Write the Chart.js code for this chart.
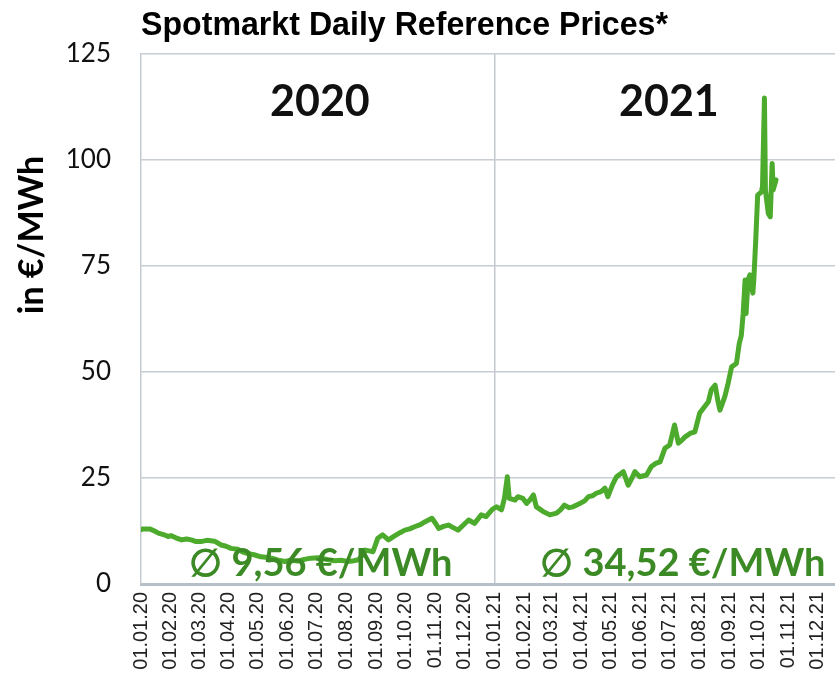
<!DOCTYPE html>
<html>
<head>
<meta charset="utf-8">
<script src="https://cdn.jsdelivr.net/npm/chart.js@4.4.0/dist/chart.umd.min.js"></script>
<style>
  body { margin: 0; background: #fff; overflow: hidden; }
  #wrap { width: 835px; height: 673px; position: relative; }
</style>
</head>
<body>
<div id="wrap"><canvas id="charts"></canvas></div>
<script>
// day number counted from 01.01.20
var days = [0, 2, 9, 14, 18, 24, 28, 31, 36, 42, 47, 52, 57, 62, 68, 76, 80, 83, 88, 93,
    100, 105, 110, 117, 124, 129, 135, 142, 149, 155, 162, 169, 176, 183, 188, 194, 200, 207, 214, 220,
    225, 229, 232, 236, 240, 245, 250, 256, 262, 268, 273, 278, 283, 289, 294, 301, 305, 308, 313, 318,
    323, 328, 333, 339, 345, 352, 357, 363,
    366, 368, 373, 376, 379, 381, 387, 390, 395, 399, 403, 406, 409, 413, 416, 423, 430, 434, 438, 443,
    447, 454, 459, 463, 467, 471, 476, 480, 483, 488, 492, 499, 504, 508, 511, 516, 523, 528, 533, 537,
    542, 547, 552, 556, 560, 563, 568, 573, 578, 583, 587, 590, 594, 597, 599, 604, 607, 611, 616, 619,
    621, 623, 625, 626, 628, 630, 633, 634, 636, 638, 642, 643, 645, 646, 649, 651, 653, 654, 657];
var prices = [12.8, 13.0, 13.0, 12.5, 12.0, 11.6, 11.2, 11.4, 10.9, 10.4, 10.6, 10.4, 10.0, 10.0, 10.3, 10.1, 9.6, 9.2, 8.9, 8.4,
    8.2, 7.6, 7.2, 6.9, 6.4, 6.3, 6.1, 5.6, 5.3, 5.6, 5.4, 5.8, 6.1, 6.2, 6.0, 5.7, 5.5, 5.6, 5.3, 5.5,
    5.7, 6.8, 8.0, 7.8, 7.6, 10.8, 11.6, 10.4, 11.3, 12.1, 12.7, 13.0, 13.5, 14.0, 14.7, 15.5, 14.2, 13.1, 13.6, 13.9,
    13.3, 12.7, 13.8, 15.1, 14.3, 16.3, 15.9, 17.5,
    18.0, 18.2, 17.5, 20.2, 25.3, 20.2, 19.8, 20.6, 20.2, 19.0, 20.0, 21.0, 18.2, 17.6, 17.1, 16.3, 16.7, 17.5, 18.6, 18.0,
    18.2, 19.0, 19.6, 20.6, 20.8, 21.4, 21.8, 22.6, 20.6, 23.5, 25.3, 26.5, 23.3, 25.0, 26.5, 25.3, 25.7, 27.7, 28.5, 28.8,
    32.0, 32.8, 37.5, 33.2, 34.0, 34.7, 35.5, 35.9, 40.3, 41.8, 43.0, 45.8, 46.9, 43.0, 41.0, 44.2, 46.9, 51.2, 52.0, 56.8,
    58.5, 63.8, 71.7, 63.8, 71.7, 72.9, 68.6, 71.7, 81.1, 91.7, 92.5, 93.8, 114.6, 92.9, 87.4, 86.6, 99.2, 92.9, 95.3];

var monthDays = [0, 31, 60, 91, 121, 152, 182, 213, 244, 274, 305, 335,
    366, 397, 425, 456, 486, 517, 547, 578, 609, 639, 670, 700];
var monthLabels = ['01.01.20', '01.02.20', '01.03.20', '01.04.20', '01.05.20', '01.06.20', '01.07.20', '01.08.20',
    '01.09.20', '01.10.20', '01.11.20', '01.12.20', '01.01.21', '01.02.21', '01.03.21', '01.04.21', '01.05.21',
    '01.06.21', '01.07.21', '01.08.21', '01.09.21', '01.10.21', '01.11.21', '01.12.21'];
var yearStart = 366;
var years = ['2020', '2021'];
var averages = ['\u2205 9,56 \u20ac/MWh', '\u2205 34,52 \u20ac/MWh'];

var points = days.map(function (d, i) { return { x: d, y: prices[i] }; });

var textPlugin = {
    id: 'texts',
    afterDatasetsDraw: function (chart) {
        var c = chart.ctx;
        var a = chart.chartArea;
        var xs = chart.scales.x;
        var mid1 = (a.left + xs.getPixelForValue(yearStart)) / 2;
        var mid2 = (xs.getPixelForValue(yearStart) + a.right) / 2;
        c.save();
        c.textAlign = 'center';
        c.textBaseline = 'middle';
        c.fillStyle = '#111';
        c.font = 'bold 43px Lato';
        c.fillText(years[0], mid1 + 2, 102);
        c.fillText(years[1], mid2 + 4, 102);
        c.fillStyle = '#3C8A25';
        c.font = 'bold 38px Lato';
        c.fillText(averages[0], mid1 + 3, 564);
        c.fillText(averages[1], mid2 + 18, 564);
        c.restore();
    },
    afterDraw: function (chart) {
        var c = chart.ctx;
        var title = 'Spotmarkt Daily Reference Prices*';
        c.save();
        c.fillStyle = '#000';
        c.textBaseline = 'alphabetic';
        c.textAlign = 'left';
        c.font = 'bold 33px "Liberation Sans"';
        var w = c.measureText(title).width;
        c.translate(141, 35);
        c.scale(527 / w, 1);
        c.fillText(title, 0, 0);
        c.restore();
        c.save();
        c.fillStyle = '#000';
        c.translate(32, 235);
        c.rotate(-Math.PI / 2);
        c.textAlign = 'center';
        c.textBaseline = 'middle';
        c.font = 'bold 34px Lato';
        c.fillText('in \u20ac/MWh', 0, 0);
        c.restore();
    }
};

var ctx = document.getElementById('charts').getContext('2d');
var chart = new Chart(ctx, {
    type: 'line',
    data: {
        datasets: [{
            label: 'Spotmarkt',
            data: points,
            borderColor: '#4CAA2C',
            borderWidth: 5,
            pointRadius: 0,
            tension: 0,
            borderJoinStyle: 'round',
            borderCapStyle: 'round'
        }]
    },
    options: {
        responsive: true,
        maintainAspectRatio: false,
        animation: false,
        layout: { padding: { top: 54, right: 0, left: 0, bottom: 0 } },
        plugins: {
            legend: { display: false },
            tooltip: { enabled: false }
        },
        scales: {
            x: {
                type: 'linear',
                min: 0,
                max: 718,
                afterBuildTicks: function (scale) {
                    scale.ticks = monthDays.map(function (d) { return { value: d }; });
                },
                afterFit: function (scale) {
                    scale.height = 89;
                    scale.paddingLeft = 0;
                    scale.paddingRight = 0;
                },
                ticks: {
                    autoSkip: false,
                    maxRotation: 90,
                    minRotation: 90,
                    padding: 8,
                    color: '#222',
                    font: { family: 'Liberation Sans', size: 20 },
                    callback: function (value, index) { return monthLabels[index]; }
                },
                grid: {
                    drawTicks: false,
                    lineWidth: 1.5,
                    color: function (c) {
                        return c.tick && c.tick.value === yearStart ? '#c3c8ce' : 'rgba(0,0,0,0)';
                    }
                },
                border: { color: '#b6bec7', width: 3 }
            },
            y: {
                min: 0,
                max: 125,
                afterFit: function (scale) { scale.width = 141; },
                ticks: {
                    stepSize: 25,
                    padding: 30,
                    color: '#111',
                    font: { family: 'Lato', size: 26 }
                },
                grid: { drawTicks: false, color: '#c8cdd3', lineWidth: 1.5 },
                border: { color: '#c3cad2', width: 1.5 }
            }
        }
    },
    plugins: [textPlugin]
});
</script>
</body>
</html>
